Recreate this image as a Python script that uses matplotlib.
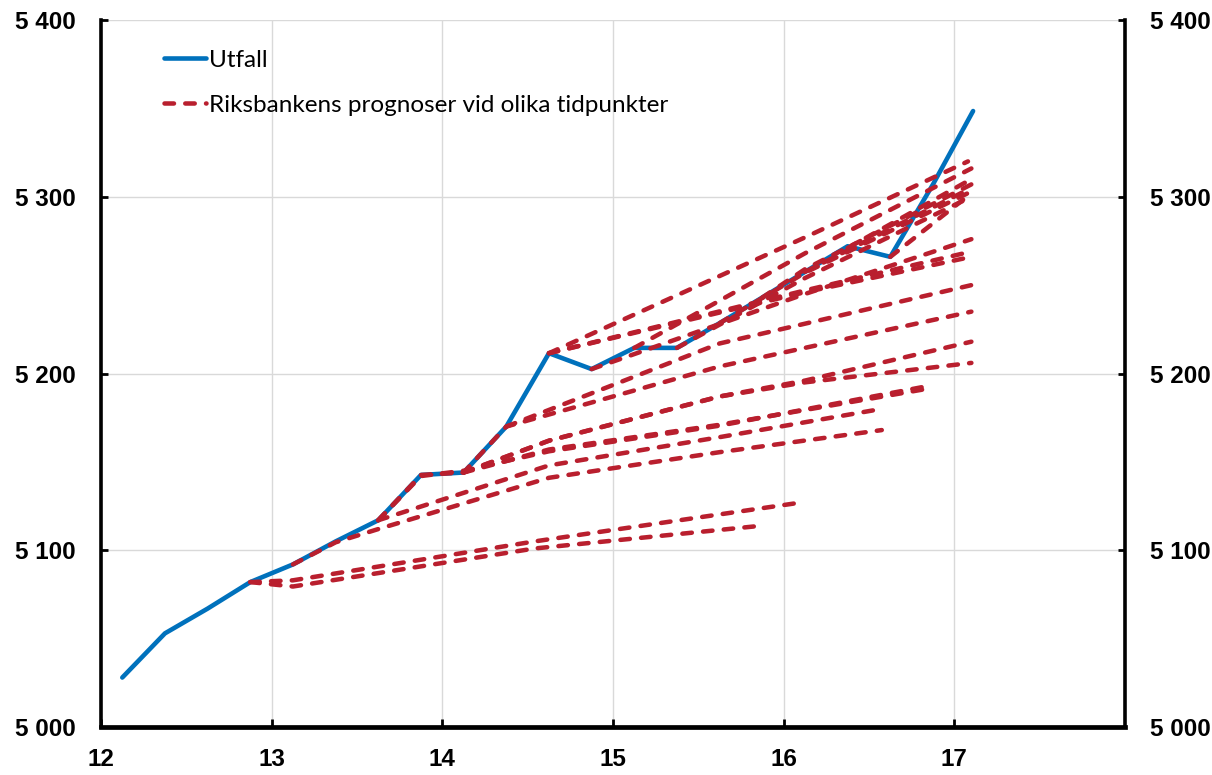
import matplotlib
matplotlib.use("Agg")
import matplotlib.pyplot as plt
from matplotlib.ticker import FuncFormatter

# tick labels: heavy bold sans; legend: Lato regular
plt.rcParams['font.family'] = ['Liberation Sans', 'DejaVu Sans']
plt.rcParams['font.weight'] = 'bold'

# Utfall (quarterly, plotted at mid-quarter)
outcome_x = [12.125, 12.375, 12.625, 12.875, 13.125, 13.375, 13.625, 13.875,
             14.125, 14.375, 14.625, 14.875, 15.125, 15.375, 15.625, 15.875,
             16.125, 16.375, 16.625, 16.875, 17.11]
outcome_y = [5028, 5053, 5067, 5082, 5092, 5105, 5117, 5142.6,
             5144, 5170, 5211.5, 5202.5, 5214.5, 5214.5, 5228.5, 5243,
             5257.5, 5272, 5266, 5307, 5348.5]

# Riksbankens prognoser (vertices)
fc_x = [
    [12.875, 13.125, 14.54, 15.83],
    [12.875, 13.125, 14.54, 16.1],
    [13.125, 13.375, 13.625, 14.625, 15.625, 16.575],
    [13.625, 14.625, 15.625, 16.575],
    [13.625, 13.875, 14.125, 14.625, 15.625, 16.85],
    [14.125, 14.625, 15.625, 16.85],
    [14.125, 14.625, 15.625, 16.125, 17.1],
    [14.125, 14.625, 15.625, 16.125, 17.1],
    [13.625, 13.875, 14.125, 14.375, 15.625, 17.1],
    [14.375, 15.625, 17.1],
    [14.625, 16.125, 17.1],
    [14.625, 16.125, 17.1],
    [14.875, 16.125, 17.1],
    [14.625, 16.125, 17.08],
    [15.125, 16.125, 17.1],
    [15.375, 16.125, 17.1],
    [15.625, 16.125, 17.1],
    [15.875, 16.125, 17.1],
    [16.125, 17.1],
    [16.375, 17.1],
    [16.625, 17.1],
]
fc_y = [
    [5082, 5079.5, 5101, 5113.5],
    [5082, 5083, 5105, 5127],
    [5092, 5104.5, 5112, 5141, 5155.5, 5168],
    [5117, 5148, 5164, 5180],
    [5117, 5142, 5145, 5156, 5170.5, 5193],
    [5144, 5157, 5171, 5191.5],
    [5144, 5162, 5187, 5195, 5206],
    [5144, 5162, 5187, 5196, 5218],
    [5117, 5142.6, 5144, 5170, 5204, 5235],
    [5170, 5217, 5250],
    [5211.5, 5246, 5266],
    [5211.5, 5247, 5269],
    [5202.5, 5245, 5276],
    [5211.5, 5277, 5320],
    [5214.5, 5268, 5316],
    [5214.5, 5254, 5300],
    [5228.5, 5257, 5303],
    [5243, 5259, 5307],
    [5257.5, 5305],
    [5271, 5310],
    [5266, 5302],
]

blue = '#0071BC'
red = '#B91F2E'

fig = plt.figure(figsize=(12.12, 7.75), dpi=100)
ax = fig.add_axes([0.0833, 0.0619, 0.8449, 0.9123])

ax.plot(outcome_x, outcome_y, color=blue, lw=3.3, solid_joinstyle='round',
        solid_capstyle='round', label='Utfall', zorder=3)
for i, (xs, ys) in enumerate(zip(fc_x, fc_y)):
    ax.plot(xs, ys, color=red, lw=3.25, dashes=(2.1, 2.5), dash_capstyle='round',
            label='Riksbankens prognoser vid olika tidpunkter' if i == 0 else None,
            zorder=4)

ax.set_xlim(12, 18)
ax.set_ylim(5000, 5400)
ax.set_xticks([12, 13, 14, 15, 16, 17])
ax.set_yticks([5000, 5100, 5200, 5300, 5400])
ax.yaxis.set_major_formatter(FuncFormatter(lambda v, p: f"{v:,.0f}".replace(",", " ")))

ax.grid(True, color='#d9d9d9', lw=1.0, zorder=0)
ax.set_axisbelow(True)

for side in ['left', 'right', 'bottom']:
    ax.spines[side].set_linewidth(2.6)
    ax.spines[side].set_color('black')
ax.spines['bottom'].set_linewidth(3.4)
ax.spines['top'].set_visible(False)

ax.tick_params(axis='y', direction='in', length=5, width=2, left=True, right=True,
               labelleft=True, labelright=True, pad=18, labelsize=17.5)
ax.tick_params(axis='x', direction='in', length=6, width=2, pad=15, labelsize=17.5)

leg = ax.legend(loc='upper left', bbox_to_anchor=(0.052, 0.972), frameon=False,
                prop={'family': ['Lato', 'DejaVu Sans'], 'size': 17.5, 'weight': 'normal'},
                handlelength=1.75, handletextpad=0.1, labelspacing=1.0, borderaxespad=0)

fig.savefig('out.png', dpi=100)
